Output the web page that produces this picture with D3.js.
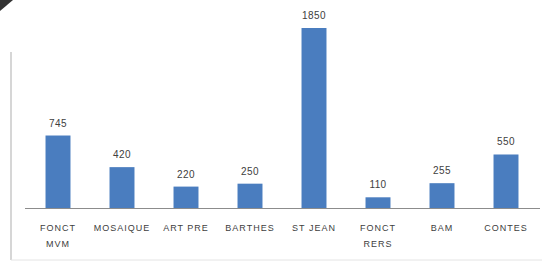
<!DOCTYPE html>
<html>
<head>
<meta charset="utf-8">
<script src="https://cdn.jsdelivr.net/npm/d3@7"></script>
<style>
  body { margin: 0; background: #fff; }
  svg { display: block; font-family: "Liberation Sans", Arial, sans-serif; }
</style>
</head>
<body>
<script>
const categories = ['FONCT MVM', 'MOSAIQUE', 'ART PRE', 'BARTHES', 'ST JEAN', 'FONCT RERS', 'BAM', 'CONTES'];
const values = [745, 420, 220, 250, 1850, 110, 255, 550];

const width = 542;
const height = 263;
const baseY = 208;

const svg = d3.select('body').append('svg')
    .attr('width', width)
    .attr('height', height);

// dark corner of the photographed slide
svg.append('path')
    .attr('d', 'M0,0 L13,0 L0,11 Z')
    .attr('fill', '#333');

// faint frame pieces around the plot
svg.append('line')
    .attr('x1', 11).attr('x2', 11)
    .attr('y1', 52).attr('y2', 260)
    .attr('stroke', '#c8c8c8').attr('stroke-width', 1.5);
svg.append('line')
    .attr('x1', 11).attr('x2', 542)
    .attr('y1', 260).attr('y2', 260)
    .attr('stroke', '#e4e4e4').attr('stroke-width', 1);

const x = d3.scaleBand()
    .domain(categories)
    .range([26, 538])
    .paddingInner(0.61)
    .paddingOuter(0.305);

const y = d3.scaleLinear()
    .domain([0, 1850])
    .range([baseY, 28]);

svg.selectAll('rect.bar')
    .data(values)
    .enter()
    .append('rect')
    .attr('class', 'bar')
    .attr('x', (d, i) => x(categories[i]))
    .attr('y', d => y(d))
    .attr('width', x.bandwidth())
    .attr('height', d => baseY - y(d))
    .attr('fill', '#4a7dbf');

// baseline
svg.append('line')
    .attr('x1', 25).attr('x2', 540)
    .attr('y1', baseY + 0.5).attr('y2', baseY + 0.5)
    .attr('stroke', '#8c8c8c');

svg.selectAll('text.val')
    .data(values)
    .enter()
    .append('text')
    .attr('class', 'val')
    .attr('x', (d, i) => x(categories[i]) + x.bandwidth() / 2)
    .attr('y', d => y(d) - 9)
    .attr('text-anchor', 'middle')
    .attr('font-size', 10)
    .attr('letter-spacing', 0.4)
    .attr('fill', '#404040')
    .text(d => d);

const labels = svg.selectAll('text.cat')
    .data(categories)
    .enter()
    .append('text')
    .attr('class', 'cat')
    .attr('text-anchor', 'middle')
    .attr('font-size', 9)
    .attr('fill', '#404040')
    .attr('letter-spacing', 1);

labels.selectAll('tspan')
    .data(d => {
      const parts = d.startsWith('FONCT') ? d.split(' ') : [d];
      return parts.map(p => ({ p, c: d }));
    })
    .enter()
    .append('tspan')
    .attr('x', d => x(d.c) + x.bandwidth() / 2)
    .attr('y', (d, i) => 231 + i * 16)
    .text(d => d.p);
</script>
</body>
</html>
